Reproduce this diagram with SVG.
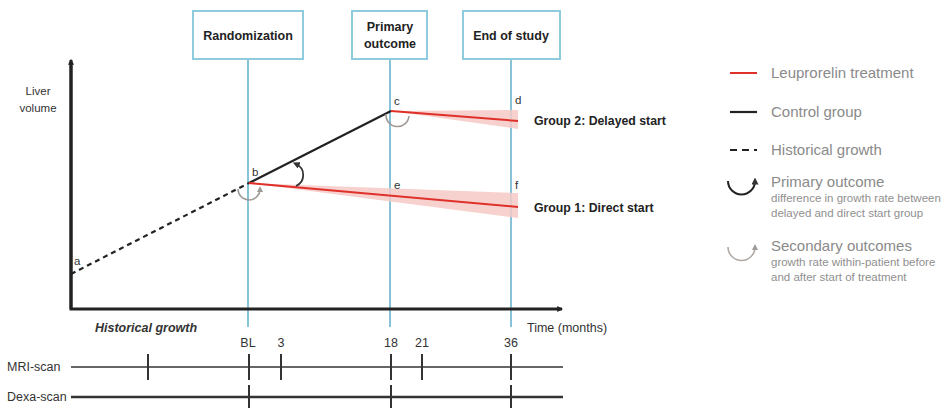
<svg xmlns="http://www.w3.org/2000/svg" width="952" height="408" viewBox="0 0 952 408">
  <defs>
    <marker id="axisHead" viewBox="0 0 10 10" refX="8" refY="5" markerWidth="6" markerHeight="6" orient="auto" markerUnits="userSpaceOnUse">
      <path d="M0,0 L10,5 L0,10 z" fill="#222"/>
    </marker>
    <marker id="arcHead" viewBox="0 0 10 10" refX="5" refY="5" markerWidth="7" markerHeight="7" orient="auto" markerUnits="userSpaceOnUse">
      <path d="M0,0 L10,5 L0,10 z" fill="#333"/>
    </marker>
    <marker id="arcHeadGrey" viewBox="0 0 10 10" refX="5" refY="5" markerWidth="6" markerHeight="6" orient="auto" markerUnits="userSpaceOnUse">
      <path d="M0,0 L10,5 L0,10 z" fill="#a09a96"/>
    </marker>
    <style>
      .box { fill: #fff; stroke: #8ecbdd; stroke-width: 2; }
      .guide { stroke: #86c3d9; stroke-width: 2; fill: none; }
      .boxText { font-family: "Liberation Sans", Arial, sans-serif; font-size: 12.5px; font-weight: bold; fill: #222; text-anchor: middle; }
      .lbl { font-family: "Liberation Sans", Arial, sans-serif; font-size: 11.5px; fill: #333; }
      .axisLbl { font-family: "Liberation Sans", Arial, sans-serif; font-size: 12.5px; fill: #333; }
      .grp { font-family: "Liberation Sans", Arial, sans-serif; font-size: 12.3px; font-weight: bold; fill: #222; }
      .axis { stroke: #222; stroke-width: 3; fill: none; }
      .hist { stroke: #222; stroke-width: 2.2; stroke-dasharray: 5 4; fill: none; }
      .ctrl { stroke: #222; stroke-width: 2.2; fill: none; }
      .treat { stroke: #e0302a; stroke-width: 2; fill: none; }
      .band { fill: #f6c9c6; opacity: 0.85; }
      .primArc { stroke: #333; stroke-width: 1.8; fill: none; }
      .secArc { stroke: #a09a96; stroke-width: 1.6; fill: none; }
      .leg { font-family: "Liberation Sans", Arial, sans-serif; font-size: 15px; fill: #8a8a8a; }
      .legSub { font-family: "Liberation Sans", Arial, sans-serif; font-size: 11.5px; fill: #8f8f8f; }
      .scan { stroke: #333; stroke-width: 1.5; fill: none; }
      .tick { stroke: #333; stroke-width: 2; }
    </style>
  </defs>

  <!-- milestone guides -->
  <g id="guides">
    <line class="guide" x1="248" y1="59" x2="248" y2="327"/>
    <line class="guide" x1="390" y1="59" x2="390" y2="327"/>
    <line class="guide" x1="511" y1="59" x2="511" y2="327"/>
  </g>

  <g id="randomization">
    <rect class="box" x="193" y="11" width="110" height="48"/>
    <text class="boxText" x="248" y="40">Randomization</text>
  </g>
  <g id="primary-outcome">
    <rect class="box" x="352" y="11" width="75" height="48"/>
    <text class="boxText" x="390" y="31">Primary</text>
    <text class="boxText" x="390" y="48">outcome</text>
  </g>
  <g id="end-of-study">
    <rect class="box" x="463" y="11" width="97" height="48"/>
    <text class="boxText" x="511" y="40">End of study</text>
  </g>

  <!-- axes -->
  <g id="axes">
    <polyline class="axis" points="71,62 71,309 562,309" marker-end="url(#axisHead)"/>
    <line class="axis" x1="71" y1="309" x2="71" y2="60" marker-end="url(#axisHead)"/>
    <text class="lbl" x="38" y="95" text-anchor="middle">Liver</text>
    <text class="lbl" x="38" y="112" text-anchor="middle">volume</text>
    <text class="axisLbl" x="527" y="332">Time (months)</text>
    <text class="axisLbl" x="95" y="332" font-weight="bold" font-style="italic" fill="#444" font-size="12px">Historical growth</text>
  </g>

  <!-- growth curves -->
  <g id="connectors">
    <polygon class="band" points="391,111 518,110 518,129"/>
    <polygon class="band" points="249,183 518,193 518,218"/>
    <line class="hist" x1="71" y1="274" x2="249" y2="183"/>
    <line class="ctrl" x1="249" y1="183" x2="391" y2="111"/>
    <line class="treat" x1="391" y1="111" x2="518" y2="121"/>
    <line class="treat" x1="249" y1="183" x2="518" y2="207"/>
    <path class="primArc" d="M296,186 A12,12 0 0 0 296,164" marker-end="url(#arcHead)"/>
    <path class="secArc" d="M238,189 A11,11 0 0 0 260,189" marker-end="url(#arcHeadGrey)"/>
    <path class="secArc" d="M386,114 A11.5,11.5 0 0 0 409,116"/>
  </g>

  <g id="point-labels">
    <text class="lbl" x="74" y="265">a</text>
    <text class="lbl" x="252" y="176">b</text>
    <text class="lbl" x="394" y="105">c</text>
    <text class="lbl" x="515" y="104">d</text>
    <text class="lbl" x="394" y="189">e</text>
    <text class="lbl" x="515" y="189">f</text>
    <text class="grp" x="534" y="125">Group 2: Delayed start</text>
    <text class="grp" x="534" y="212">Group 1: Direct start</text>
  </g>

  <!-- legend -->
  <g id="legend">
    <line x1="730" y1="73" x2="757" y2="73" stroke="#e0302a" stroke-width="2"/>
    <text class="leg" x="771" y="78">Leuprorelin treatment</text>
    <line x1="730" y1="112" x2="757" y2="112" stroke="#222" stroke-width="2.2"/>
    <text class="leg" x="771" y="117">Control group</text>
    <line x1="730" y1="150" x2="757" y2="150" stroke="#222" stroke-width="2.2" stroke-dasharray="7 5"/>
    <text class="leg" x="771" y="155">Historical growth</text>
    <path d="M728,181 A13.5,13.5 0 0 0 755,181" stroke="#222" stroke-width="2" fill="none" marker-end="url(#arcHead)"/>
    <text class="leg" x="771" y="187">Primary outcome</text>
    <text class="legSub" x="771" y="202">difference in growth rate between</text>
    <text class="legSub" x="771" y="217">delayed and direct start group</text>
    <path d="M728,247 A13.5,13.5 0 0 0 755,247" stroke="#b0aaa6" stroke-width="1.6" fill="none" marker-end="url(#arcHeadGrey)"/>
    <text class="leg" x="771" y="251">Secondary outcomes</text>
    <text class="legSub" x="771" y="266">growth rate within-patient before</text>
    <text class="legSub" x="771" y="281">and after start of treatment</text>
  </g>

  <!-- scan schedule -->
  <g id="scan-schedule">
    <text class="axisLbl" x="248" y="347" text-anchor="middle">BL</text>
    <text class="axisLbl" x="281" y="347" text-anchor="middle">3</text>
    <text class="axisLbl" x="391" y="347" text-anchor="middle">18</text>
    <text class="axisLbl" x="422" y="347" text-anchor="middle">21</text>
    <text class="axisLbl" x="511" y="347" text-anchor="middle">36</text>
    <text class="axisLbl" x="7" y="371">MRI-scan</text>
    <line class="scan" x1="71" y1="367" x2="563" y2="367"/>
    <line class="tick" x1="148" y1="354" x2="148" y2="380"/>
    <line class="tick" x1="249" y1="354" x2="249" y2="380"/>
    <line class="tick" x1="281" y1="354" x2="281" y2="380"/>
    <line class="tick" x1="391" y1="354" x2="391" y2="380"/>
    <line class="tick" x1="422" y1="354" x2="422" y2="380"/>
    <line class="tick" x1="511" y1="354" x2="511" y2="380"/>
    <text class="axisLbl" x="7" y="401">Dexa-scan</text>
    <line x1="71" y1="397" x2="563" y2="397" stroke="#333" stroke-width="2.5"/>
    <line class="tick" x1="249" y1="385" x2="249" y2="408"/>
    <line class="tick" x1="391" y1="385" x2="391" y2="408"/>
    <line class="tick" x1="511" y1="385" x2="511" y2="408"/>
  </g>
</svg>
